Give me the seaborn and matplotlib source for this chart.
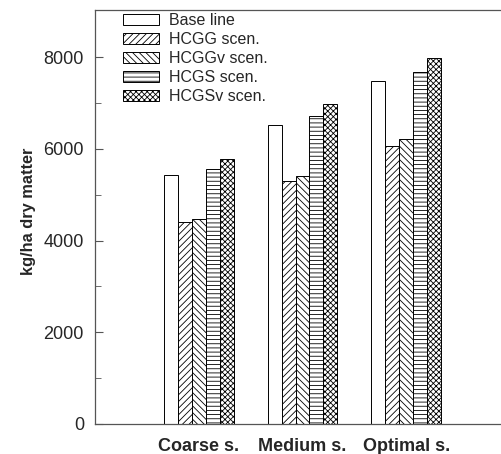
import matplotlib
matplotlib.use("Agg")
import matplotlib.pyplot as plt
import seaborn as sns
import pandas as pd

soils = ["Coarse s.", "Medium s.", "Optimal s."]
scenarios = ["Base line", "HCGG scen.", "HCGGv scen.", "HCGS scen.", "HCGSv scen."]
base_line = [5430, 6520, 7480]
hcgg = [4400, 5290, 6070]
hcggv = [4470, 5410, 6210]
hcgs = [5560, 6720, 7680]
hcgsv = [5780, 6970, 7990]
y_ticks = [0, 2000, 4000, 6000, 8000]

series = [base_line, hcgg, hcggv, hcgs, hcgsv]
rows = []
for scen, vals in zip(scenarios, series):
    for s, v in zip(soils, vals):
        rows.append({"soil": s, "scen": scen, "val": v})
df = pd.DataFrame(rows)

sns.set_style("ticks")
plt.rcParams["font.family"] = ["Liberation Sans", "DejaVu Sans"]
plt.rcParams["hatch.linewidth"] = 0.6

fig = plt.figure(figsize=(5.01, 4.54), dpi=100)
ax = fig.add_axes([95 / 501, 30 / 454, 415 / 501, 414 / 454])

sns.barplot(data=df, x="soil", y="val", hue="scen", order=soils,
            hue_order=scenarios, width=0.67, color="white",
            palette=["white"] * 5, edgecolor="black", linewidth=0.7,
            saturation=1, legend=False, ax=ax)

hatches = ["", "/////", "\\\\\\\\\\", "----", "xxxxxx"]
for cont, h in zip(ax.containers, hatches):
    for p in cont.patches:
        p.set_hatch(h)
        p.set_facecolor("white")
        p.set_edgecolor("black")

ax.set_xlim(-1, 3)
ax.set_ylim(0, 9030)
ax.set_yticks(y_ticks)
ax.set_yticks([1000, 3000, 5000, 7000], minor=True)
ax.tick_params(axis="y", direction="in", length=6, width=0.8, labelsize=13,
               color="#555555", pad=8)
ax.tick_params(axis="y", which="minor", direction="in", length=4, width=0.6,
               color="#555555")
ax.tick_params(axis="x", length=0, labelsize=13, pad=10)
for lab in ax.get_xticklabels():
    lab.set_fontweight("bold")
ax.set_xlabel("")
ax.set_ylabel("kg/ha dry matter", fontsize=11.8, fontweight="bold")
ax.yaxis.set_label_coords(-59 / 415, (424 - 211) / 414)

for side in ["left", "bottom", "top"]:
    ax.spines[side].set_visible(True)
    ax.spines[side].set_color("#555555")
    ax.spines[side].set_linewidth(0.9)
ax.spines["right"].set_visible(False)

handles = [c.patches[0] for c in ax.containers]
ax.legend(handles=handles, labels=scenarios, loc="upper left",
          bbox_to_anchor=(123 / 501, 1 - 13 / 454), bbox_transform=fig.transFigure,
          frameon=False, fontsize=11.5, handlelength=2.25, handleheight=0.7,
          labelspacing=0.25, handletextpad=0.6, borderaxespad=0, borderpad=0)

fig.savefig("out.png", dpi=100)
